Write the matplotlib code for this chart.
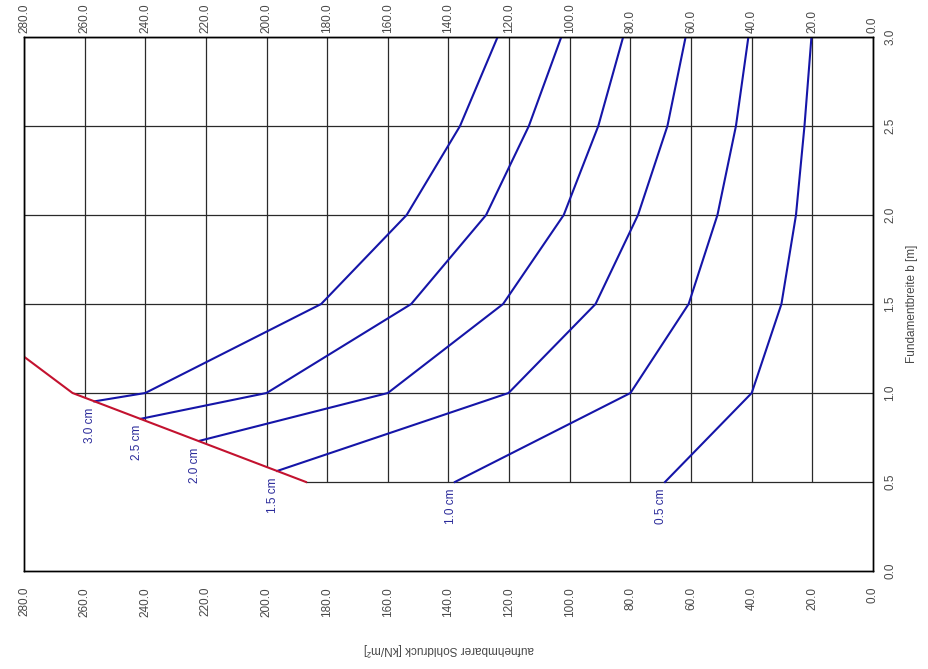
import matplotlib
matplotlib.use("Agg")
import matplotlib.pyplot as plt
from matplotlib.patches import Polygon

plt.rcParams['font.family'] = ['Liberation Sans', 'DejaVu Sans']

# Axis ticks
pressure_ticks = [280, 260, 240, 220, 200, 180, 160, 140, 120, 100, 80, 60, 40, 20, 0]
width_ticks = [0.0, 0.5, 1.0, 1.5, 2.0, 2.5, 3.0]

# Settlement curves: foundation width b [m] vs. allowable bearing pressure [kN/m²]
settlement_labels = ["0.5 cm", "1.0 cm", "1.5 cm", "2.0 cm", "2.5 cm", "3.0 cm"]

s05_b = [0.5, 1.0, 1.5, 2.0, 2.5, 3.0]
s05_p = [68.6, 40.0, 30.2, 25.4, 22.6, 20.3]

s10_b = [0.5, 1.0, 1.5, 2.0, 2.5, 3.0]
s10_p = [137.9, 80.0, 60.8, 51.3, 45.2, 41.1]

s15_b = [0.562, 1.0, 1.5, 2.0, 2.5, 3.0]
s15_p = [196.5, 120.2, 91.5, 77.5, 67.8, 61.8]

s20_b = [0.731, 1.0, 1.5, 2.0, 2.5, 3.0]
s20_p = [222.2, 160.0, 122.0, 102.0, 90.6, 82.4]

s25_b = [0.855, 1.0, 1.5, 2.0, 2.5, 3.0]
s25_p = [241.5, 200.0, 152.3, 127.6, 113.5, 102.8]

s30_b = [0.953, 1.0, 1.5, 2.0, 2.5, 3.0]
s30_p = [256.8, 240.0, 182.0, 153.8, 136.2, 123.8]

# Bearing capacity limit line
limit_p = [280.0, 264.0, 187.0]
limit_b = [1.204, 1.0, 0.5]

curves = [
    (s05_p, s05_b), (s10_p, s10_b), (s15_p, s15_b),
    (s20_p, s20_b), (s25_p, s25_b), (s30_p, s30_b),
]

BLUE = '#1515a8'
RED = '#c3122f'
TEXT = '#484848'

fig = plt.figure(figsize=(9.29, 6.69), dpi=100)
ax = fig.add_axes([24 / 929, 1 - 571 / 669, 849 / 929, 534 / 669])

ax.set_xlim(280, 0)
ax.set_ylim(0, 3.0)
ax.set_xticks(pressure_ticks)
ax.set_yticks(width_ticks)
ax.set_xticklabels([f"{v:.1f}" for v in pressure_ticks])
ax.set_yticklabels([f"{v:.1f}" for v in width_ticks])

ax.yaxis.tick_right()
ax.yaxis.set_label_position('right')
ax.tick_params(axis='x', length=0, pad=11.5, labelsize=8.5, labelcolor=TEXT, labelrotation=90)
ax.tick_params(axis='y', length=0, pad=8, labelsize=8.5, labelcolor=TEXT, labelrotation=90)
for lbl in ax.get_yticklabels():
    lbl.set_verticalalignment('center')

ax.set_xlabel("aufnehmbarer Sohldruck [kN/m²]", rotation=180, fontsize=8.5,
              color=TEXT, labelpad=19)
ax.set_ylabel("Fundamentbreite b [m]", rotation=90, fontsize=8.5,
              color=TEXT, labelpad=7)

# Top axis carries the same pressure labels
top = ax.twiny()
top.set_xlim(ax.get_xlim())
top.set_xticks(pressure_ticks)
top.set_xticklabels([f"{v:.1f}" for v in pressure_ticks])
top.tick_params(axis='x', length=0, pad=3, labelsize=8.5, labelcolor=TEXT, labelrotation=90)

for sp in list(ax.spines.values()) + list(top.spines.values()):
    sp.set_color('black')
    sp.set_linewidth(1.0)

# Grid only inside the admissible region (above b = 0.5 and right of the limit line)
def admissible_region(b_floor):
    pts = [(280, 3.0)] + list(zip(limit_p, limit_b)) + \
          [(limit_p[-1], b_floor), (0, b_floor), (0, 3.0)]
    poly = Polygon(pts, closed=True, transform=ax.transData,
                   facecolor='none', edgecolor='none')
    ax.add_patch(poly)
    return poly

region_v = admissible_region(0.5)
region_h = admissible_region(0.48)

ax.grid(True, color='#2a2a2a', linewidth=0.9)
ax.set_axisbelow(True)
for gl in ax.get_xgridlines():
    gl.set_clip_path(region_v)
for gl in ax.get_ygridlines():
    gl.set_clip_path(region_h)

for (p, b), lab in zip(curves, settlement_labels):
    ax.plot(p, b, color=BLUE, linewidth=1.5, zorder=3, solid_joinstyle='miter')
    ax.annotate(lab, xy=(p[0], b[0]), xytext=(-3, -4.5), textcoords='offset points',
                rotation=90, ha='center', va='top', fontsize=8.5, color='#2a2a9a',
                zorder=5)

ax.plot(limit_p, limit_b, color=RED, linewidth=1.5, zorder=4, clip_on=True)

fig.savefig("out.png", dpi=100)
